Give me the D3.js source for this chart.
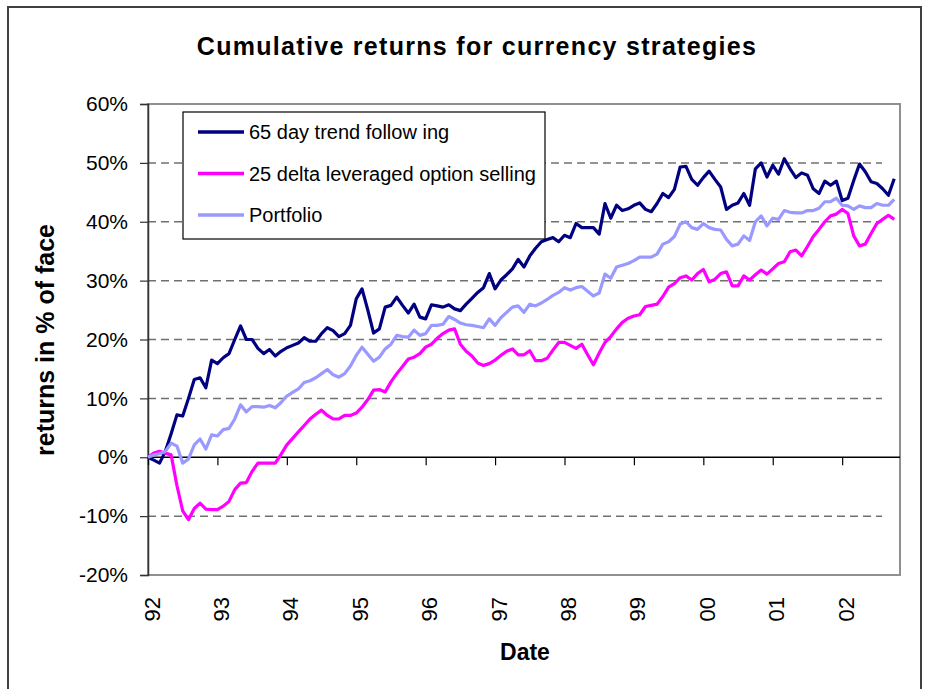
<!DOCTYPE html>
<html>
<head>
<meta charset="utf-8">
<script src="https://cdn.jsdelivr.net/npm/d3@7"></script>
<style>
  body { margin: 0; background: #fff; }
  svg { font-family: "Liberation Sans", Arial, sans-serif; }
</style>
</head>
<body>
<svg id="chart" width="930" height="689"></svg>
<script>
// monthly values, Jan 1992 .. Oct 2002 (in %)
var trendFollowing = [
  0, -0.5, -1, 1, 4, 7.2, 7, 10, 13.2, 13.5, 11.8, 16.5,
  15.9, 16.9, 17.6, 20, 22.3, 20, 20, 18.5, 17.6, 18.3, 17.2, 18,
  18.6, 19, 19.4, 20.3, 19.7, 19.7, 21, 22, 21.5, 20.5, 21, 22.4,
  26.9, 28.6, 25, 21.1, 21.8, 25.5, 25.8, 27.2, 25.8, 24.5, 26, 23.8,
  23.5, 25.9, 25.7, 25.5, 25.9, 25.2, 24.9, 26, 27, 28, 28.8, 31.2,
  28.6, 30.1, 31, 32, 33.6, 32.3, 34.2, 35.5, 36.6, 37, 37.3, 36.6,
  37.7, 37.3, 39.7, 39, 39, 39, 37.9, 43.1, 40.6, 42.8, 41.9, 42.2,
  42.8, 43.2, 42.1, 41.7, 43.1, 44.8, 44.1, 45.5, 49.3, 49.4, 47.2, 46.2,
  47.5, 48.6, 47.2, 45.9, 42.1, 42.8, 43.2, 44.8, 42.8, 49, 50, 47.6,
  49.6, 48.1, 50.7, 49, 47.5, 48.3, 47.9, 45.6, 44.8, 46.9, 46.2, 46.9,
  43.6, 44, 47, 49.8, 48.5, 46.8, 46.5, 45.6, 44.5, 47.3
];
var optionSelling = [
  0, 0.7, 1, 0.7, 0.4, -4.8, -9.1, -10.6, -8.7, -7.8, -8.8, -8.9,
  -8.9, -8.3, -7.5, -5.5, -4.4, -4.3, -2.4, -1, -1, -1, -1, 0.5,
  2.1, 3.2, 4.3, 5.4, 6.5, 7.3, 8, 7.1, 6.5, 6.5, 7.1, 7.1,
  7.5, 8.5, 9.8, 11.4, 11.5, 11.1, 12.8, 14.2, 15.4, 16.7, 17, 17.6,
  18.7, 19.2, 20.2, 21, 21.6, 21.8, 19.2, 18, 17.2, 16, 15.6, 15.9,
  16.5, 17.3, 18, 18.4, 17.4, 17.4, 18.1, 16.4, 16.4, 16.8, 18.2, 19.5,
  19.5, 19, 18.5, 19.2, 17.4, 15.7, 17.7, 19.5, 20.5, 21.8, 22.9, 23.6,
  24, 24.2, 25.6, 25.8, 26, 27.3, 28.9, 29.5, 30.5, 30.8, 30.1, 31.2,
  31.9, 29.8, 30.2, 31.2, 31.5, 29.1, 29.1, 30.8, 30.1, 31, 31.8, 31.1,
  32, 32.9, 33.2, 34.9, 35.2, 34.2, 35.8, 37.5, 38.7, 40, 41, 41.3,
  42.1, 41.4, 37.6, 35.9, 36.2, 38, 39.7, 40.4, 41.1, 40.4
];
var portfolio = [
  0, 0.4, 0.6, 1, 2.4, 1.9, -1, -0.3, 2.1, 3.1, 1.4, 3.8,
  3.6, 4.7, 4.9, 6.5, 8.9, 7.7, 8.6, 8.6, 8.5, 8.8, 8.4, 9.3,
  10.4, 11, 11.6, 12.7, 13, 13.5, 14.2, 14.9, 14, 13.6, 14.2, 15.5,
  17.3, 18.7, 17.5, 16.3, 17, 18.4, 19.2, 20.7, 20.5, 20.4, 21.6, 20.7,
  21, 22.4, 22.4, 22.6, 23.9, 23.4, 22.8, 22.5, 22.4, 22.2, 22, 23.5,
  22.4, 23.7, 24.6, 25.5, 25.7, 24.6, 26, 25.7, 26.2, 26.8, 27.5, 28,
  28.8, 28.4, 28.8, 29, 28.2, 27.4, 27.9, 31.1, 30.4, 32.3, 32.6, 32.9,
  33.4, 34, 34, 34, 34.5, 36.2, 36.6, 37.5, 39.6, 40, 39, 38.7,
  39.7, 39, 38.7, 38.6, 37, 35.9, 36.2, 37.6, 36.8, 40, 41, 39.3,
  40.6, 40.4, 41.9, 41.6, 41.5, 41.5, 41.9, 41.9, 42.3, 43.4, 43.4, 44,
  42.8, 42.7, 42.1, 42.7, 42.4, 42.4, 43.1, 42.8, 42.8, 43.8
];
var yearLabels = ["92", "93", "94", "95", "96", "97", "98", "99", "00", "01", "02"];
var yTicks = [-20, -10, 0, 10, 20, 30, 40, 50, 60];
var seriesNames = ["65 day trend follow ing", "25 delta leveraged option selling", "Portfolio"];
var seriesColors = ["#000080", "#FF00FF", "#9999FF"];

var svg = d3.select("#chart");

// chart area frame
svg.append("rect")
  .attr("x", 8).attr("y", 7).attr("width", 913).attr("height", 700)
  .attr("fill", "#fff").attr("stroke", "#404040").attr("stroke-width", 2);

var plotLeft = 148, plotRight = 900, plotTop = 104, plotBottom = 575;

var x = d3.scaleLinear().domain([0, 130]).range([plotLeft, plotRight]);
var y = d3.scaleLinear().domain([-20, 60]).range([plotBottom, plotTop]);

// plot area border
svg.append("rect")
  .attr("x", plotLeft).attr("y", plotTop)
  .attr("width", plotRight - plotLeft).attr("height", plotBottom - plotTop)
  .attr("fill", "none").attr("stroke", "#909090").attr("stroke-width", 2);

// dashed gridlines
svg.append("g")
  .selectAll("line")
  .data(yTicks.filter(function (d) { return d !== 0 && d !== 60 && d !== -20; }))
  .join("line")
  .attr("x1", plotLeft).attr("x2", plotRight - 18)
  .attr("y1", function (d) { return y(d); })
  .attr("y2", function (d) { return y(d); })
  .attr("stroke", "#707070").attr("stroke-width", 1.5)
  .attr("stroke-dasharray", "8,5");

// y axis
var yAxis = d3.axisLeft(y)
  .tickValues(yTicks)
  .tickSize(8)
  .tickPadding(12)
  .tickFormat(function (d) { return d + "%"; });
var gy = svg.append("g")
  .attr("transform", "translate(" + plotLeft + ",0)")
  .call(yAxis);
gy.select(".domain").attr("stroke", "#333").attr("stroke-width", 1.5);
gy.selectAll(".tick line").attr("stroke", "#333").attr("stroke-width", 1.2);
gy.selectAll(".tick text")
  .attr("font-size", 21).attr("fill", "#000")
  .attr("font-family", "Liberation Sans, Arial, sans-serif");

// x axis at 0%
var xAxis = d3.axisBottom(x)
  .tickValues(d3.range(0, 121, 12))
  .tickSize(8)
  .tickFormat("");
var gx = svg.append("g")
  .attr("transform", "translate(0," + y(0) + ")")
  .call(xAxis);
gx.select(".domain").attr("stroke", "#000").attr("stroke-width", 1.5).attr("d", "M" + plotLeft + ",0H" + plotRight);
gx.selectAll(".tick line").attr("stroke", "#000").attr("stroke-width", 1.2);

// year labels, rotated, below the plot
svg.append("g")
  .selectAll("text")
  .data(yearLabels)
  .join("text")
  .attr("transform", function (d, i) {
    return "translate(" + (x(i * 12) + 4) + "," + 597 + ") rotate(-90)";
  })
  .attr("text-anchor", "end")
  .attr("dominant-baseline", "central")
  .attr("font-size", 22)
  .text(function (d) { return d; });

// lines
var line = d3.line()
  .x(function (d, i) { return x(i); })
  .y(function (d) { return y(d); });

[trendFollowing, optionSelling, portfolio].forEach(function (s, k) {
  svg.append("path")
    .datum(s)
    .attr("fill", "none")
    .attr("stroke", seriesColors[k])
    .attr("stroke-width", 3.2)
    .attr("stroke-linejoin", "round")
    .attr("d", line);
});

// legend
var legend = svg.append("g");
legend.append("rect")
  .attr("x", 183).attr("y", 112).attr("width", 362).attr("height", 127)
  .attr("fill", "#fff").attr("stroke", "#000").attr("stroke-width", 1.2);
seriesNames.forEach(function (name, k) {
  var ly = 132 + k * 41.5;
  legend.append("line")
    .attr("x1", 198).attr("x2", 244).attr("y1", ly).attr("y2", ly)
    .attr("stroke", seriesColors[k]).attr("stroke-width", 3.5);
  legend.append("text")
    .attr("x", 249).attr("y", ly)
    .attr("dominant-baseline", "central")
    .attr("font-size", 20)
    .text(name);
});

// titles
svg.append("text")
  .attr("x", 477).attr("y", 46)
  .attr("text-anchor", "middle").attr("dominant-baseline", "central")
  .attr("font-size", 25).attr("font-weight", "bold")
  .attr("letter-spacing", 1.3)
  .text("Cumulative returns for currency strategies");

svg.append("text")
  .attr("transform", "translate(45,340) rotate(-90)")
  .attr("text-anchor", "middle").attr("dominant-baseline", "central")
  .attr("font-size", 25).attr("font-weight", "bold")
  .text("returns in % of face");

svg.append("text")
  .attr("x", 525).attr("y", 652)
  .attr("text-anchor", "middle").attr("dominant-baseline", "central")
  .attr("font-size", 23).attr("font-weight", "bold")
  .text("Date");
</script>
</body>
</html>
